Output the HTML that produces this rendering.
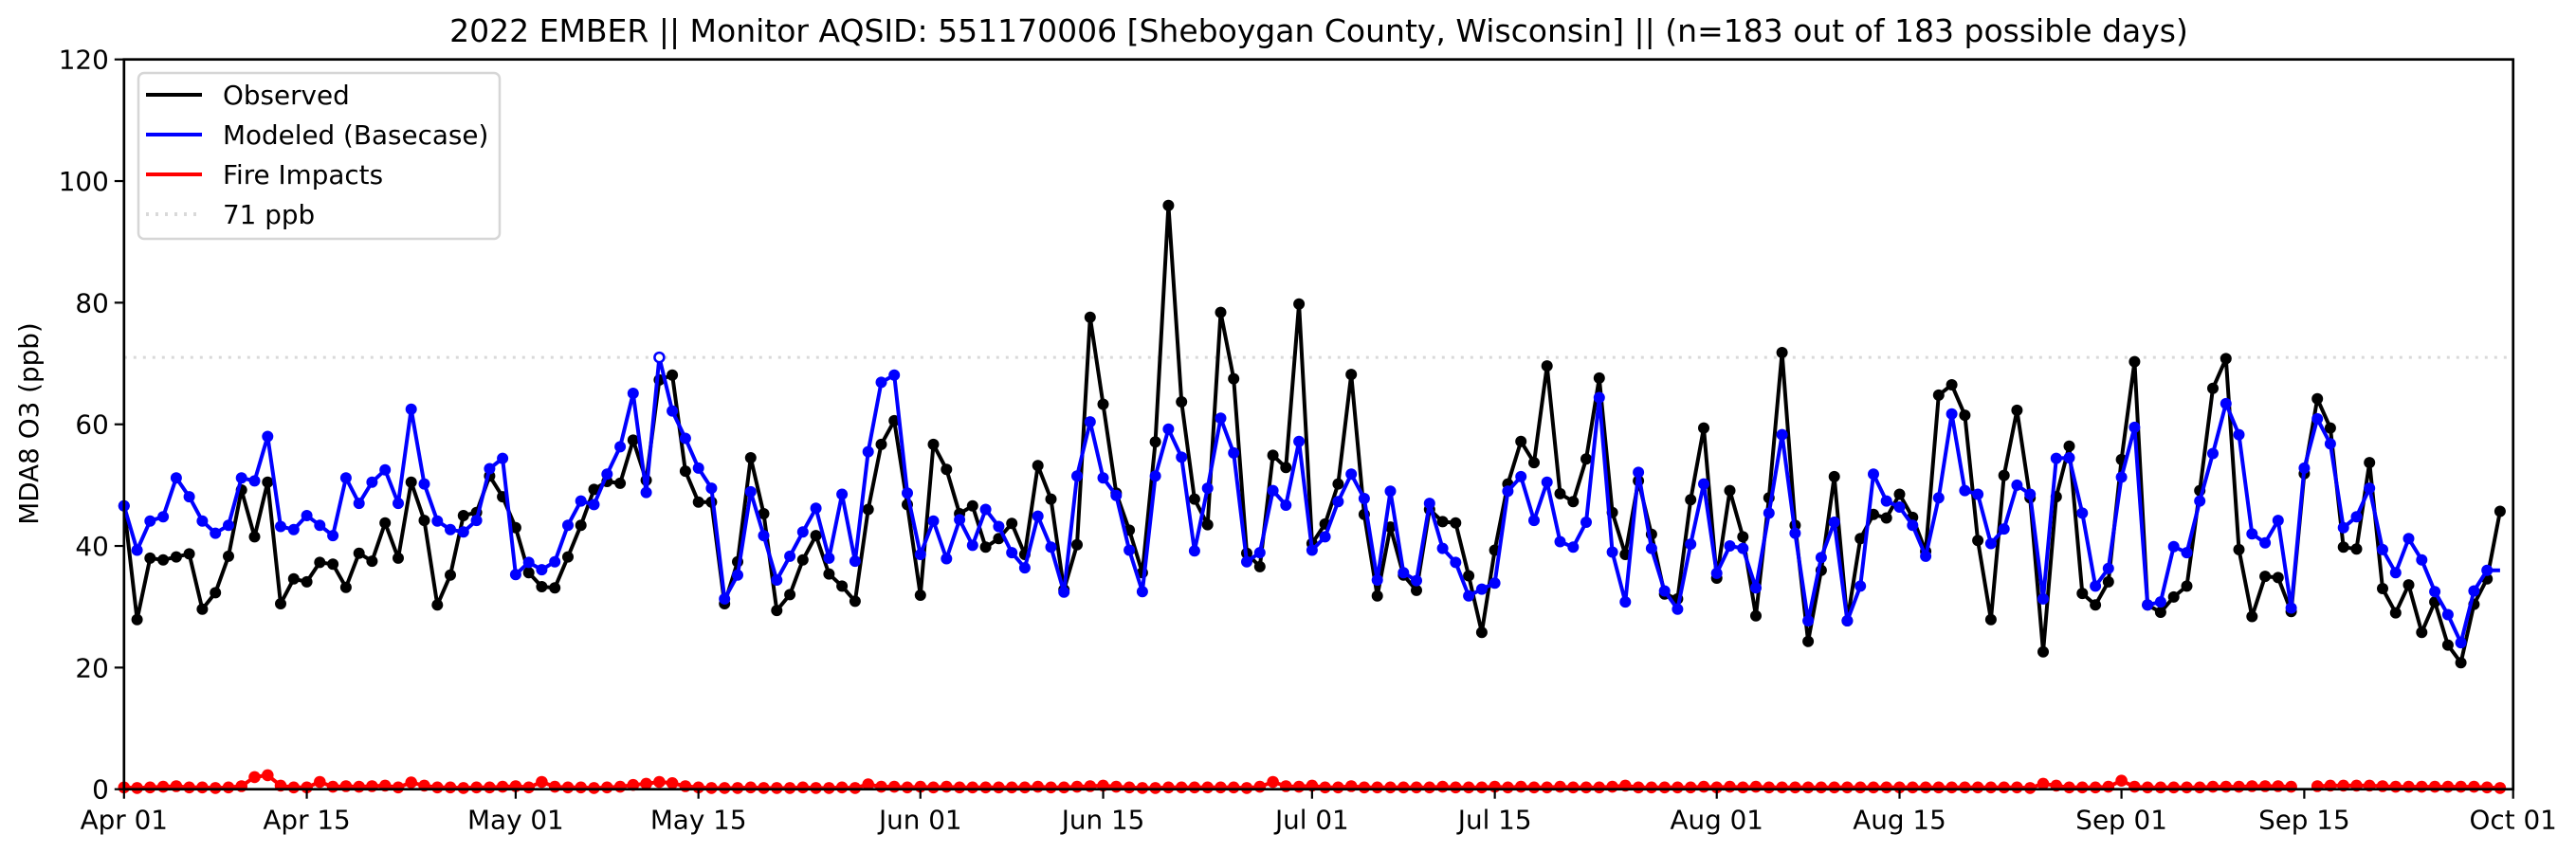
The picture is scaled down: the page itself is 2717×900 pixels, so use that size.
<!DOCTYPE html>
<html><head><meta charset="utf-8"><style>
html,body{margin:0;padding:0;background:#fff;}
svg{display:block;font-family:"DejaVu Sans","Liberation Sans",sans-serif;}
</style></head><body>
<svg id="chart" width="2717" height="900" viewBox="0 0 2717 900" xmlns="http://www.w3.org/2000/svg">
<rect x="0" y="0" width="2717" height="900" fill="#fff"/>
<text x="1391" y="44" text-anchor="middle" font-size="33" fill="#000">2022 EMBER || Monitor AQSID: 551170006 [Sheboygan County, Wisconsin] || (n=183 out of 183 possible days)</text>
<text transform="translate(40,447) rotate(-90)" text-anchor="middle" font-size="27.8" fill="#000">MDA8 O3 (ppb)</text>
<g id="grid"></g>
</svg>
<script>
const yTicks=[0,20,40,60,80,100,120];
const xTickDays=[0,14,30,44,61,75,91,105,122,136,153,167,183];
const xTickLabels=["Apr 01","Apr 15","May 01","May 15","Jun 01","Jun 15","Jul 01","Jul 15","Aug 01","Aug 15","Sep 01","Sep 15","Oct 01"];
const threshold=71;
const observed=[46.6,27.9,38,37.7,38.2,38.7,29.6,32.3,38.3,49.2,41.5,50.5,30.5,34.6,34.1,37.3,37,33.2,38.8,37.5,43.8,38,50.5,44.2,30.3,35.2,45,45.5,51.5,48.1,
43,35.6,33.3,33.1,38.2,43.4,49.3,50.6,50.3,57.4,50.8,67.3,68.1,52.3,47.2,47.2,30.5,37.4,54.5,45.3,29.4,32,37.7,41.7,35.4,33.4,30.9,46,56.7,60.6,
46.8,31.9,56.7,52.6,45.3,46.6,39.8,41.2,43.7,38.6,53.2,47.7,32.8,40.2,77.6,63.3,48.7,42.6,35.6,57.1,96,63.7,47.7,43.5,78.4,67.5,38.8,36.6,54.9,52.9,
79.8,40.4,43.6,50.2,68.2,45.2,31.8,43.1,35.2,32.7,46,44,43.8,35.1,25.8,39.3,50.2,57.2,53.7,69.6,48.6,47.3,54.3,67.6,45.5,38.6,50.7,41.9,32.1,31.3,
47.6,59.4,34.7,49.1,41.5,28.5,47.9,71.8,43.4,24.3,36,51.4,27.7,41.2,45.2,44.6,48.5,44.7,39.1,64.8,66.5,61.5,40.9,27.9,51.6,62.3,47.9,22.6,48.1,56.4,
32.2,30.3,34.1,54.2,70.3,30.3,29.1,31.6,33.4,49.1,65.9,70.8,39.4,28.4,35,34.8,29.2,51.9,64.2,59.4,39.8,39.5,53.7,33,29,33.6,25.8,30.8,23.7,20.8,
30.4,34.6,45.7];
const modeled=[46.6,39.3,44.1,44.8,51.2,48.1,44.1,42.1,43.4,51.2,50.7,58,43.2,42.7,45,43.4,41.7,51.2,47,50.5,52.5,47,62.5,50.2,44.1,42.7,42.3,44.2,52.7,54.4,
35.3,37.3,36.1,37.4,43.4,47.4,46.8,51.8,56.3,65.1,48.8,71,62.2,57.7,52.8,49.5,31.3,35.2,48.9,41.7,34.4,38.3,42.3,46.2,38,48.5,37.5,55.5,66.9,68.1,
48.7,38.6,44.1,37.9,44.3,40.1,46,43.2,38.9,36.4,44.9,39.8,32.4,51.5,60.4,51.2,48.3,39.3,32.5,51.5,59.2,54.6,39.2,49.5,61,55.3,37.4,38.9,49.1,46.7,
57.2,39.3,41.5,47.3,51.8,47.8,34.4,49,35.6,34.3,47,39.6,37.3,31.8,32.9,33.9,49,51.4,44.2,50.5,40.7,39.8,43.9,64.4,39,30.8,52.1,39.6,32.6,29.6,
40.3,50.2,35.5,40,39.6,33.1,45.4,58.3,42.1,27.7,38.1,43.9,27.7,33.4,51.8,47.4,46.4,43.4,38.3,47.9,61.7,49.1,48.5,40.4,42.8,50,48.5,31.3,54.4,54.5,
45.4,33.4,36.3,51.3,59.5,30.3,30.8,39.9,38.9,47.4,55.2,63.4,58.3,42,40.5,44.2,29.8,52.8,60.9,56.8,43,44.8,49.5,39.4,35.6,41.2,37.7,32.5,28.7,24.1,
32.6,36,36];
const fire=[0.3,0.2,0.3,0.4,0.5,0.3,0.3,0.2,0.3,0.5,
2.0,2.3,0.6,0.3,0.3,1.2,0.4,0.5,0.4,0.5,
0.6,0.3,1.1,0.6,0.3,0.3,0.2,0.3,0.3,0.4,
0.5,0.3,1.2,0.4,0.3,0.3,0.2,0.3,0.4,0.7,
0.9,1.2,1.0,0.5,0.3,0.2,0.2,0.2,0.3,0.2,
0.2,0.2,0.3,0.2,0.2,0.3,0.2,0.8,0.4,0.4,
0.3,0.4,0.3,0.4,0.3,0.3,0.3,0.3,0.3,0.3,
0.4,0.3,0.3,0.4,0.5,0.6,0.4,0.3,0.2,0.2,
0.3,0.3,0.3,0.3,0.3,0.3,0.2,0.4,1.2,0.5,
0.4,0.6,0.3,0.3,0.5,0.3,0.3,0.3,0.3,0.3,
0.3,0.4,0.3,0.3,0.3,0.4,0.3,0.4,0.3,0.3,
0.4,0.3,0.3,0.3,0.4,0.6,0.3,0.3,0.3,0.3,
0.3,0.4,0.3,0.4,0.3,0.4,0.3,0.3,0.3,0.3,
0.3,0.3,0.3,0.3,0.3,0.3,0.3,0.3,0.3,0.3,
0.3,0.3,0.3,0.3,0.3,0.3,0.2,0.9,0.6,0.3,
0.3,0.3,0.4,1.4,0.4,0.3,0.3,0.3,0.3,0.3,
0.4,0.4,0.4,0.5,0.5,0.5,0.4,null,0.5,0.6,
0.6,0.6,0.6,0.5,0.4,0.4,0.4,0.4,0.4,0.4,
0.4,0.3,0.2];

const NS="http://www.w3.org/2000/svg";
const L=130.8,R=2650.7,T=62.7,B=832.7,NDAYS=183,YMAX=120;
function xs(d){return L+(R-L)*d/NDAYS;}
function ys(v){return B-(B-T)*v/YMAX;}
const g=document.getElementById('grid');
function mk(tag,attrs,parent){const e=document.createElementNS(NS,tag);for(const k in attrs)e.setAttribute(k,attrs[k]);(parent||g).appendChild(e);return e;}

const th=mk('line',{x1:L,x2:R,y1:ys(threshold),y2:ys(threshold),stroke:'#d9d9d9','stroke-width':3,'stroke-dasharray':'3,7'});



function series(vals,color,name,r,hollowAbove){
  const grp=mk('g',{});
  
  
  let segs=[],cur=[];
  vals.forEach((v,i)=>{if(v===null){if(cur.length)segs.push(cur);cur=[];}else cur.push(xs(i).toFixed(1)+','+ys(v).toFixed(1));});
  if(cur.length)segs.push(cur);
  segs.forEach(s=>{
    const p=mk('polyline',{points:s.join(' '),fill:'none',stroke:color,'stroke-width':4,'stroke-linejoin':'round'},grp);
    
    
  });
  vals.forEach((v,i)=>{
    if(v===null)return;
    if(name==='modeled'&&i===vals.length-1)return;
    const hollow=hollowAbove!==undefined&&v>=hollowAbove;
    const c=mk('circle',{cx:xs(i).toFixed(1),cy:ys(v).toFixed(1),r:hollow?r-1:r,fill:hollow?'#fff':color,stroke:color,'stroke-width':hollow?2.5:0},grp);
    
    
  });
}
series(observed,'#000','observed',6);
series(modeled,'#0000ff','modeled',6,threshold);
series(fire,'#ff0000','fire-impacts',6.3);

const fr=mk('rect',{x:L,y:T,width:R-L,height:B-T,fill:'none',stroke:'#000','stroke-width':2.7});



yTicks.forEach(v=>{
  const t=mk('line',{x1:L-10,x2:L,y1:ys(v),y2:ys(v),stroke:'#000','stroke-width':2.2});
  
  
  const tx=mk('text',{x:L-16,y:ys(v)+10,'text-anchor':'end','font-size':27.8,fill:'#000'});
  tx.textContent=String(v);
  
  
});
xTickDays.forEach((d,i)=>{
  const t=mk('line',{x1:xs(d),x2:xs(d),y1:B,y2:B+10,stroke:'#000','stroke-width':2.2});
  
  
  const tx=mk('text',{x:xs(d),y:B+42,'text-anchor':'middle','font-size':27.8,fill:'#000'});
  tx.textContent=xTickLabels[i];
  
  
});

const lg=mk('g',{});


mk('rect',{x:146,y:77,width:381,height:175,rx:6,fill:'#fff','fill-opacity':0.85,stroke:'#d6d6d6','stroke-width':2.5},lg);
const legItems=[["Observed","#000",false],["Modeled (Basecase)","#0000ff",false],["Fire Impacts","#ff0000",false],["71 ppb","#d9d9d9",true]];
legItems.forEach((it,i)=>{
  const y=100+i*42;
  const ln=mk('line',{x1:154,x2:213,y1:y,y2:y,stroke:it[1],'stroke-width':4},lg);
  if(it[2])ln.setAttribute('stroke-dasharray','3,7');
  
  
  const tx=mk('text',{x:235,y:y+10,'font-size':27.8,fill:'#000'},lg);
  tx.textContent=it[0];
  
  
});
</script>
</body></html>
